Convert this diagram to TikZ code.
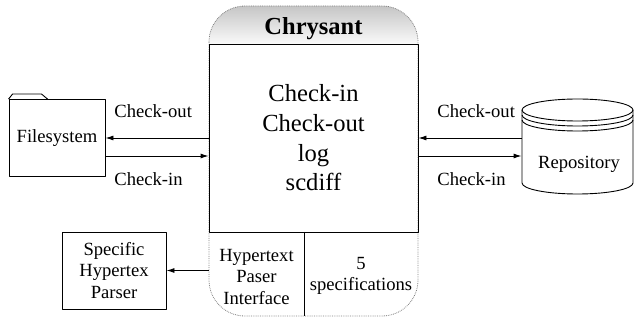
\documentclass[tikz,border=0pt]{standalone}
\usepackage{fontspec}
\setmainfont{Liberation Serif}
\usetikzlibrary{arrows.meta}
\tikzset{
  box/.style={draw,line width=.9pt,inner sep=0pt},
  lbl/.style={inner sep=0pt},
  big/.style={font=\fontsize{24.6}{29.7}\selectfont},
}
\begin{document}
\begin{tikzpicture}[x=1pt,y=-1pt,line width=.9pt,line join=round,>={Latex[length=8pt,width=5pt]},font=\rmfamily\fontsize{18.6}{21.6}\selectfont]
\useasboundingbox (0,0) rectangle (634,320);
% Chrysant
\begin{scope}
  \clip[rounded corners=36pt] (209,6) rectangle (418,316);
  \shade[top color=gray!45,bottom color=gray!4] (209,6) rectangle (418,44);
\end{scope}
\draw[gray,densely dotted,line width=.8pt,rounded corners=36pt] (209,6) rectangle (418,316);
\node[box,big,minimum width=209pt,minimum height=188pt,align=center] (core) at (313.5,138) {Check-in\\Check-out\\log\\scdiff};
\node[anchor=base,font=\rmfamily\bfseries\fontsize{24.5}{29}\selectfont] (title) at (313.5,35) {Chrysant};
\draw (304,232) -- (304,316);
\node[align=center] (hpi) at (256.5,277) {Hypertext\\Paser\\Interface};
\node[align=center] (specs) at (361,276) {5\\specifications};
% filesystem
\node[box,minimum width=96pt,minimum height=77pt] (fs) at (57,138) {Filesystem};
\draw (fs.north west) -- ++(4,-5) -- ++(29,0) -- ++(6,5);
% repository
\node[minimum width=111pt,minimum height=95pt,inner sep=0pt] (repo) at (577.5,146.5) {};
\draw (577.5,110) ellipse [x radius=55.5,y radius=11];
\draw (522,110) -- (522,183) arc[start angle=180,end angle=0,x radius=55.5,y radius=11] -- (633,110);
\draw (522,115) arc[start angle=180,end angle=0,x radius=55.5,y radius=11];
\draw (522,120) arc[start angle=180,end angle=0,x radius=55.5,y radius=11];
\node[anchor=base] (repotext) at (579,169) {Repository};
% parser
\node[box,minimum width=104pt,minimum height=77pt,align=center] (spec) at (114,270.5) {Specific\\Hypertex\\Parser};
% arrows
\coordinate (fsin) at ([yshift=-18pt]fs.east);
\coordinate (repoin) at ([yshift=-18pt]core.east);
\draw[->] (core.west) -- (core.west -| fs.east);
\draw[->] (fsin) -- (fsin -| core.west);
\draw[->] (repo.west |- core.east) -- (core.east);
\draw[->] (repoin) -- (repoin -| repo.west);
\draw[->] (spec.east -| core.west) -- (spec.east);
\path
(114,118) node[lbl,anchor=base west] (fsoutlbl) {Check-out}
(114,186) node[lbl,anchor=base west] (fsinlbl) {Check-in}
(437,118) node[lbl,anchor=base west] (repooutlbl) {Check-out}
(437,186) node[lbl,anchor=base west] (repoinlbl) {Check-in}
;
\end{tikzpicture}
\end{document}
